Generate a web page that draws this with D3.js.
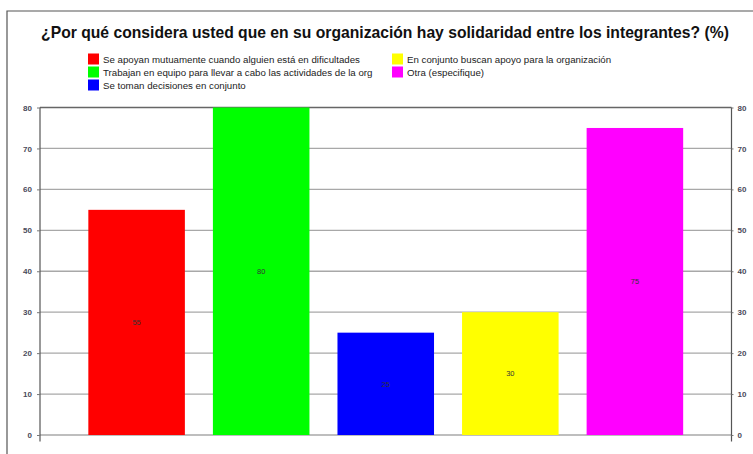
<!DOCTYPE html>
<html>
<head>
<meta charset="utf-8">
<script src="https://cdn.jsdelivr.net/npm/d3@7"></script>
<style>
  body { margin: 0; background: #fff; }
  text { font-family: "Liberation Sans", Arial, sans-serif; }
</style>
</head>
<body>
<div id="chart"></div>
<script>
var categories = [
    "Se apoyan mutuamente cuando alguien está en dificultades",
    "Trabajan en equipo para llevar a cabo las actividades de la org",
    "Se toman decisiones en conjunto",
    "En conjunto buscan apoyo para la organización",
    "Otra (especifique)"
];
var values = [55, 80, 25, 30, 75];
var colors = ["#ff0000", "#00ff00", "#0000ff", "#ffff00", "#ff00ff"];
var yTicks = [0, 10, 20, 30, 40, 50, 60, 70, 80];
var title = "¿Por qué considera usted que en su organización hay solidaridad entre los integrantes? (%)";

var width = 753, height = 454;
var plot = { left: 40, right: 731.5, top: 107.5, bottom: 435 };

var svg = d3.select("#chart")
    .append("svg")
    .attr("width", width)
    .attr("height", height);

// frame
svg.append("path")
    .attr("d", "M7,454 V11 H753")
    .attr("fill", "none")
    .attr("stroke", "#555")
    .attr("stroke-width", 1.2);

svg.append("text")
    .attr("x", 385)
    .attr("y", 37.5)
    .attr("text-anchor", "middle")
    .style("font-size", "15.7px")
    .style("font-weight", "bold")
    .attr("fill", "#111")
    .text(title);

// legend: 3 rows, column-major
var legend = svg.append("g");
categories.forEach(function (c, i) {
    var col = Math.floor(i / 3), row = i % 3;
    var g = legend.append("g")
        .attr("transform", "translate(" + (88 + col * 304) + "," + (53.5 + row * 13) + ")");
    g.append("rect")
        .attr("width", 11).attr("height", 11)
        .attr("fill", colors[i]);
    g.append("text")
        .attr("x", 15).attr("y", 9)
        .style("font-size", "9.7px")
        .attr("fill", "#222")
        .text(c);
});

var x = d3.scaleBand()
    .domain(categories)
    .range([plot.left, plot.right])
    .paddingInner(0.225)
    .paddingOuter(0.388);

var y = d3.scaleLinear()
    .domain([0, 80])
    .range([plot.bottom, plot.top]);

// gridlines
svg.append("g")
    .selectAll("line")
    .data(yTicks)
    .enter()
    .append("line")
    .attr("x1", plot.left).attr("x2", plot.right)
    .attr("y1", function (d) { return y(d); })
    .attr("y2", function (d) { return y(d); })
    .attr("stroke", function (d) { return d === 80 ? "#666" : "#a8a8a8"; })
    .attr("stroke-width", 1.3);

// bars
svg.append("g")
    .selectAll("rect")
    .data(values)
    .enter()
    .append("rect")
    .attr("x", function (d, i) { return x(categories[i]); })
    .attr("width", x.bandwidth())
    .attr("y", function (d) { return y(d); })
    .attr("height", function (d) { return y(0) - y(d); })
    .attr("fill", function (d, i) { return colors[i]; });

// value labels
svg.append("g")
    .selectAll("text")
    .data(values)
    .enter()
    .append("text")
    .attr("x", function (d, i) { return x(categories[i]) + x.bandwidth() / 2; })
    .attr("y", function (d) { return y(d / 2) + 2.7; })
    .attr("text-anchor", "middle")
    .style("font-size", "7.5px")
    .attr("fill", "#333")
    .text(function (d) { return d; });

// axes
var leftAxis = svg.append("g")
    .attr("transform", "translate(" + plot.left + ",0)")
    .call(d3.axisLeft(y).tickValues(yTicks).tickSize(3).tickPadding(5));
var rightAxis = svg.append("g")
    .attr("transform", "translate(" + plot.right + ",0)")
    .call(d3.axisRight(y).tickValues(yTicks).tickSize(2).tickPadding(4));

[leftAxis, rightAxis].forEach(function (a) {
    a.select(".domain")
        .attr("d", "M0," + plot.top + "V" + (plot.bottom + 6.5))
        .attr("stroke", "#555")
        .attr("stroke-width", 1.2);
    a.selectAll(".tick line").attr("stroke", "#777");
    a.selectAll(".tick text")
        .style("font-size", "8px")
        .style("font-family", "Liberation Sans, Arial, sans-serif")
        .style("font-weight", "bold")
        .attr("fill", "#4a4a5a");
});
</script>
</body>
</html>
